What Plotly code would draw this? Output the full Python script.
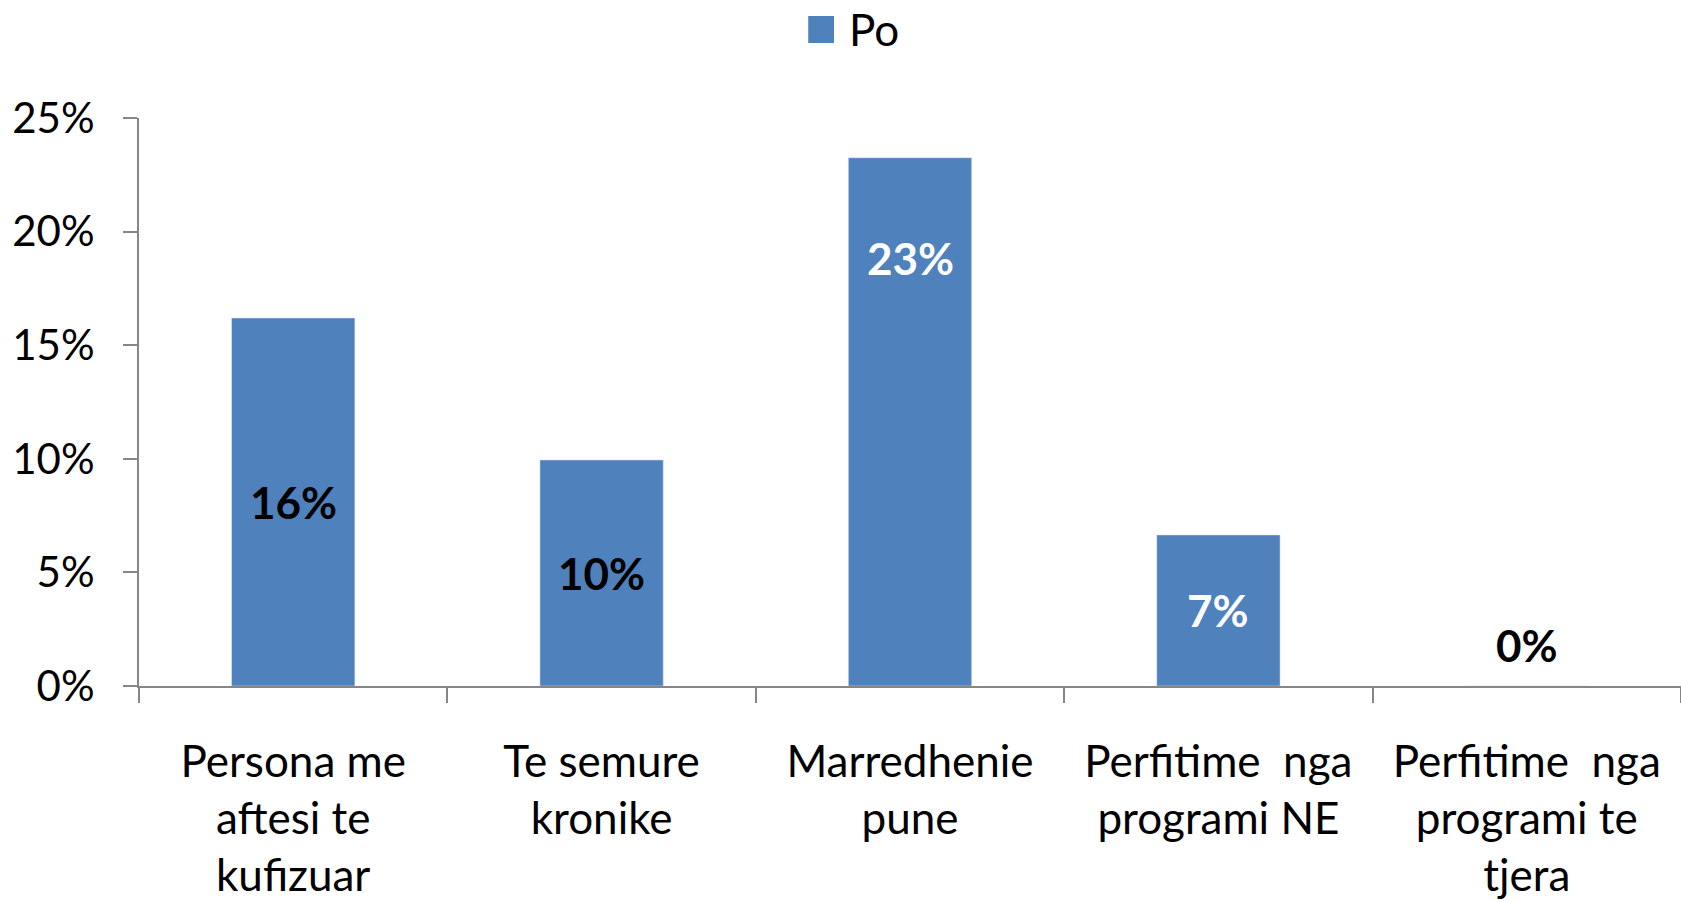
import plotly.graph_objects as go

# Share answering "Po" per category
categories = [
    "Persona me<br>aftesi te<br>kufizuar",
    "Te semure<br>kronike",
    "Marredhenie<br>pune",
    "Perfitime\u00a0 nga<br>programi NE",
    "Perfitime\u00a0 nga<br>programi te<br>tjera",
]
values = [16.2, 9.95, 23.25, 6.65, 0.0]
series_name = "Po"
y_ticks = [0, 5, 10, 15, 20, 25]
y_tick_labels = ["0%", "5%", "10%", "15%", "20%", "25%"]

BAR_COLOR = "#4F81BD"
AXIS_COLOR = "#868686"
FONT = "Lato, 'Open Sans', sans-serif"
label_colors = ["black", "black", "white", "white", "black"]

fig = go.Figure(
    go.Bar(
        x=categories,
        y=values,
        marker_color=BAR_COLOR,
        name=series_name,
        showlegend=False,
    )
)

# data labels
for i, (cat, v) in enumerate(zip(categories, values)):
    txt = f"<b>{round(v)}%</b>"
    lbl_font = dict(size=44, color=label_colors[i], family=FONT)
    if v == 0:
        fig.add_annotation(x=cat, y=0, text=txt, showarrow=False,
                           yanchor="bottom", yshift=13, font=lbl_font)
    elif v == max(values):
        fig.add_annotation(x=cat, y=v, text=txt, showarrow=False,
                           yanchor="middle", yshift=-100, font=lbl_font)
    else:
        fig.add_annotation(x=cat, y=v / 2, text=txt, showarrow=False,
                           yanchor="middle", font=lbl_font)

# custom legend (large square key)
fig.add_shape(type="rect", xref="paper", yref="paper",
              x0=0.434, x1=0.4507, y0=1.132, y1=1.1796,
              fillcolor=BAR_COLOR, line_width=0)
fig.add_annotation(xref="paper", yref="paper", x=0.459, y=1.1567,
                   text=series_name, showarrow=False, xanchor="left", yanchor="middle",
                   font=dict(size=44, color="black", family=FONT))

fig.update_layout(
    width=1681,
    height=902,
    margin=dict(l=139, r=0, t=118, b=216),
    plot_bgcolor="white",
    paper_bgcolor="white",
    font=dict(family=FONT, size=44, color="black"),
    bargap=0.6,
)
fig.update_xaxes(
    type="category",
    tickson="boundaries",
    ticks="outside",
    ticklen=15,
    tickcolor=AXIS_COLOR,
    tickwidth=2,
    showline=True,
    linecolor=AXIS_COLOR,
    linewidth=2,
    showgrid=False,
    tickfont=dict(size=44, family=FONT),
    ticklabelstandoff=36,
    automargin=False,
)
fig.update_yaxes(
    range=[0, 25],
    tickvals=y_ticks,
    ticktext=y_tick_labels,
    ticks="outside",
    ticklen=14,
    tickcolor=AXIS_COLOR,
    tickwidth=2,
    showline=True,
    linecolor=AXIS_COLOR,
    linewidth=2,
    showgrid=False,
    zeroline=False,
    tickfont=dict(size=42, family=FONT),
    ticklabelstandoff=20,
    automargin=False,
)

# drop the browser's default 8px body margin so the figure fills the window
fig.write_html(
    "out.html",
    config={"displayModeBar": False},
    post_script="document.body.style.margin='0';",
)
